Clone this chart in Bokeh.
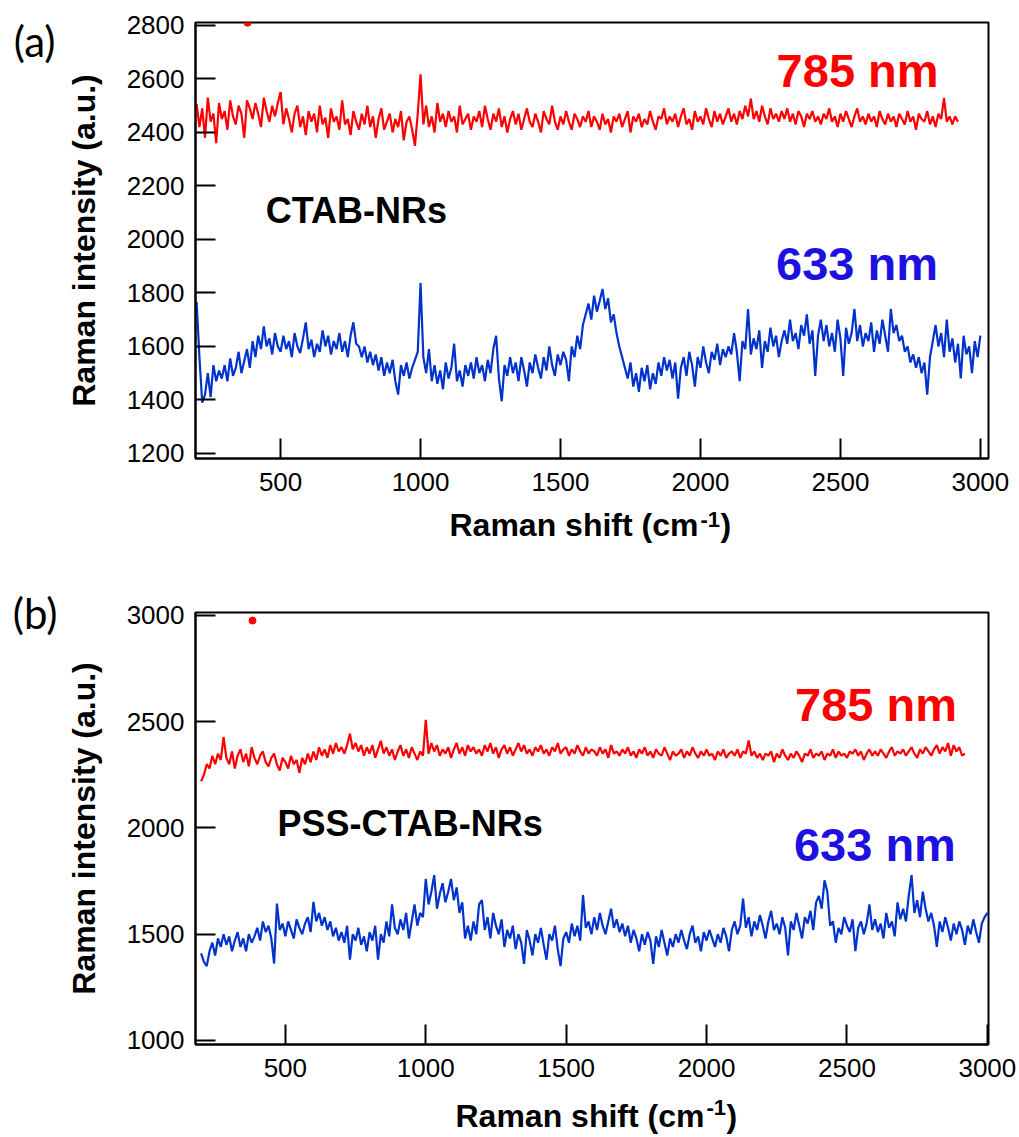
import numpy as np
from bokeh.plotting import figure
from bokeh.models import Range1d, FixedTicker, Label, LinearAxis
from bokeh.layouts import column
from bokeh.embed import file_html
from bokeh.resources import INLINE

# ---------------- data ----------------
# Raman shift grids (cm^-1)
shift_633 = np.arange(200, 3001, 10)
shift_785 = np.arange(200, 2921, 10)

# panel (a) CTAB-NRs, 633 nm
a_633 = [
    1766, 1560, 1390, 1420, 1500, 1410, 1530, 1470, 1510, 1480,
    1530, 1470, 1555, 1490, 1520, 1580, 1500, 1545, 1590, 1520,
    1620, 1560, 1640, 1590, 1675, 1600, 1630, 1570, 1650, 1600,
    1580, 1640, 1590, 1620, 1560, 1650, 1600, 1575, 1630, 1690,
    1590, 1625, 1560, 1610, 1580, 1660, 1600, 1640, 1570, 1620,
    1590, 1650, 1580, 1620, 1560, 1640, 1690, 1610, 1600, 1560,
    1600, 1540, 1580, 1530, 1570, 1510, 1560, 1490, 1540, 1500,
    1550, 1470, 1420, 1530, 1490, 1540, 1480, 1520, 1550, 1580,
    1837, 1560, 1500, 1590, 1470, 1530, 1460, 1510, 1440, 1540,
    1480, 1520, 1610, 1470, 1510, 1450, 1530, 1490, 1540, 1480,
    1560, 1500, 1530, 1470, 1550, 1500, 1590, 1640, 1480, 1395,
    1530, 1490, 1560, 1500, 1540, 1470, 1560, 1510, 1450, 1540,
    1500, 1570, 1520, 1480, 1560, 1510, 1600, 1530, 1490, 1570,
    1530, 1580, 1550, 1470, 1600, 1560, 1640, 1590, 1680, 1720,
    1760, 1700, 1790, 1730, 1770, 1815, 1740, 1780, 1690, 1720,
    1650, 1600, 1560, 1520, 1480, 1540, 1450, 1500, 1430, 1520,
    1470, 1530, 1440, 1500, 1460, 1540, 1490, 1560, 1510, 1550,
    1480, 1540, 1405, 1520, 1560, 1490, 1580, 1530, 1450, 1560,
    1520, 1600, 1540, 1500, 1580, 1550, 1610, 1530, 1590, 1560,
    1600, 1570, 1650, 1580, 1470, 1620, 1590, 1740, 1570, 1630,
    1590, 1660, 1520, 1620, 1580, 1670, 1600, 1640, 1560, 1620,
    1660, 1610, 1700, 1620, 1650, 1590, 1680, 1640, 1720, 1610,
    1660, 1490, 1640, 1700, 1620, 1680, 1600, 1650, 1580, 1700,
    1630, 1490, 1670, 1610, 1650, 1740, 1620, 1680, 1600, 1650,
    1620, 1690, 1580, 1660, 1610, 1700, 1640, 1580, 1740, 1650,
    1680, 1620, 1640, 1580, 1600, 1540, 1570, 1520, 1560, 1500,
    1540, 1420, 1560, 1620, 1680, 1600, 1650, 1560, 1700, 1580,
    1630, 1540, 1610, 1480, 1640, 1570, 1600, 1500, 1620, 1560,
    1640,
]

# panel (a) CTAB-NRs, 785 nm
a_785 = [
    2507, 2420, 2490, 2380, 2530, 2440, 2470, 2360, 2510, 2450,
    2480, 2410, 2520, 2460, 2430, 2500, 2470, 2380, 2520, 2490,
    2450, 2510, 2470, 2420, 2530, 2480, 2440, 2500, 2460, 2510,
    2551, 2430, 2490, 2450, 2400, 2470, 2500, 2420, 2460, 2390,
    2480, 2440, 2470, 2400, 2500, 2430, 2455, 2380, 2490, 2440,
    2460, 2410, 2520, 2430, 2450, 2390, 2480, 2440, 2410, 2470,
    2430, 2500, 2420, 2460, 2380, 2450, 2490, 2410, 2440, 2470,
    2400, 2450, 2420, 2480, 2370, 2440, 2460, 2410, 2350, 2470,
    2617, 2430, 2500, 2420, 2460, 2400, 2510, 2440, 2470, 2420,
    2480, 2440, 2460, 2400, 2500, 2430, 2450, 2470, 2410, 2460,
    2440, 2480, 2420, 2500, 2450, 2410, 2470, 2440, 2490, 2420,
    2460, 2400, 2450, 2480, 2430, 2470, 2410, 2450, 2490, 2440,
    2420, 2470, 2440, 2400, 2480, 2450, 2430, 2500, 2440, 2410,
    2460, 2430, 2480, 2440, 2410, 2470, 2450, 2420, 2460, 2440,
    2480, 2420, 2460, 2440, 2410, 2470, 2430, 2450, 2400, 2460,
    2440, 2470, 2420, 2450, 2480, 2400, 2460, 2440, 2470, 2420,
    2450, 2430, 2480, 2440, 2410, 2460, 2450, 2490, 2430, 2460,
    2440, 2470, 2420, 2460, 2490, 2430, 2450, 2410, 2480, 2440,
    2460, 2430, 2490, 2450, 2420, 2480, 2440, 2470, 2430, 2460,
    2490, 2440, 2470, 2430, 2480, 2450, 2500, 2460, 2526, 2450,
    2480, 2440, 2500, 2460, 2430, 2490, 2450, 2470, 2440, 2480,
    2450, 2490, 2440, 2470, 2430, 2480, 2460, 2420, 2470, 2450,
    2480, 2440, 2460, 2430, 2470, 2450, 2490, 2440, 2460, 2420,
    2470, 2440, 2480, 2450, 2420, 2460, 2490, 2440, 2460, 2430,
    2470, 2440, 2460, 2420, 2480, 2450, 2430, 2470, 2440, 2460,
    2420, 2470, 2450, 2430, 2480, 2440, 2460, 2410, 2470, 2450,
    2440, 2480, 2430, 2460, 2420, 2470, 2450, 2528, 2440, 2460,
    2430, 2460, 2440,
]

# panel (b) PSS-CTAB-NRs, 785 nm
b_785 = [
    2220, 2250, 2300, 2280, 2340, 2300, 2350, 2320, 2428, 2330,
    2300, 2360, 2280, 2340, 2370, 2310, 2350, 2290, 2380, 2330,
    2300, 2340, 2360, 2310, 2290, 2330, 2350, 2300, 2270, 2330,
    2310, 2280, 2340, 2300, 2320, 2260, 2330, 2300, 2350, 2310,
    2360, 2320, 2380, 2340, 2370, 2330, 2390, 2350, 2400, 2360,
    2380, 2350, 2390, 2444, 2370, 2400, 2360, 2390, 2340, 2380,
    2350, 2390, 2330, 2370, 2410, 2350, 2380, 2340, 2370, 2320,
    2360, 2390, 2340, 2370, 2330, 2380, 2350, 2320, 2360, 2340,
    2509, 2350, 2400, 2360, 2390, 2340, 2370, 2350, 2380, 2330,
    2370, 2400, 2350, 2380, 2340, 2390, 2360, 2380, 2350, 2370,
    2340, 2390, 2360, 2400, 2350, 2380, 2330, 2370, 2390, 2350,
    2380, 2340, 2370, 2400, 2360, 2390, 2350, 2370, 2340, 2380,
    2360, 2390, 2350, 2370, 2340, 2380, 2360, 2400, 2350, 2370,
    2380, 2340, 2370, 2350, 2390, 2360, 2340, 2380, 2350, 2370,
    2360, 2340, 2380, 2350, 2370, 2330, 2390, 2350, 2360, 2340,
    2370, 2350, 2380, 2340, 2360, 2330, 2370, 2350, 2380, 2340,
    2360, 2330, 2370, 2350, 2340, 2380, 2350, 2320, 2360, 2340,
    2350, 2370, 2330, 2360, 2340, 2380, 2350, 2330, 2360, 2340,
    2370, 2340, 2350, 2320, 2360, 2340, 2370, 2330, 2350, 2360,
    2340, 2370, 2330, 2360, 2350, 2412, 2340, 2360, 2330, 2350,
    2320, 2350, 2340, 2360, 2310, 2350, 2330, 2370, 2340, 2320,
    2350, 2330, 2360, 2340, 2310, 2350, 2340, 2370, 2330, 2350,
    2340, 2360, 2320, 2350, 2340, 2370, 2330, 2360, 2340, 2350,
    2330, 2360, 2350, 2370, 2340, 2360, 2320, 2350, 2370, 2340,
    2360, 2340, 2370, 2350, 2330, 2360, 2380, 2340, 2360, 2350,
    2370, 2340, 2360, 2380, 2350, 2330, 2370, 2350, 2380, 2360,
    2340, 2370, 2390, 2350, 2380, 2360, 2400, 2340, 2390, 2360,
    2380, 2340, 2350,
]

# panel (b) PSS-CTAB-NRs, 633 nm
b_633 = [
    1410, 1370, 1350, 1420, 1460, 1400, 1480, 1440, 1500, 1450,
    1490, 1420, 1470, 1510, 1440, 1480, 1420, 1500, 1460, 1490,
    1530, 1470, 1560, 1510, 1540, 1480, 1362, 1644, 1520, 1550,
    1490, 1560, 1520, 1480, 1570, 1530, 1500, 1550, 1580, 1510,
    1652, 1560, 1600, 1540, 1580, 1520, 1560, 1490, 1530, 1470,
    1510, 1460, 1540, 1380, 1500, 1470, 1530, 1450, 1490, 1420,
    1510, 1470, 1540, 1380, 1500, 1460, 1560, 1490, 1640, 1530,
    1500, 1570, 1520, 1600, 1480, 1560, 1640, 1540, 1600, 1580,
    1760, 1640, 1700, 1778, 1620, 1690, 1740, 1650, 1700, 1760,
    1660, 1720, 1600, 1650, 1480, 1540, 1470, 1560, 1500, 1640,
    1660, 1520, 1580, 1480, 1600, 1540, 1500, 1570, 1440, 1520,
    1480, 1540, 1430, 1500, 1460, 1360, 1520, 1470, 1400, 1500,
    1460, 1530, 1450, 1380, 1500, 1470, 1540, 1430, 1350, 1480,
    1510, 1460, 1550, 1490, 1540, 1470, 1684, 1530, 1560, 1500,
    1580, 1520, 1600, 1540, 1500, 1560, 1620, 1530, 1570, 1510,
    1550, 1490, 1540, 1460, 1520, 1480, 1420, 1500, 1450, 1510,
    1470, 1360, 1490, 1440, 1520, 1460, 1400, 1480, 1440, 1500,
    1460, 1520, 1470, 1430, 1500, 1540, 1460, 1490, 1420, 1510,
    1470, 1520, 1480, 1440, 1500, 1460, 1530, 1490, 1420, 1520,
    1560, 1500, 1540, 1668, 1530, 1580, 1490, 1560, 1520, 1590,
    1540, 1480, 1560, 1610, 1520, 1550, 1500, 1580, 1530, 1400,
    1560, 1520, 1600, 1540, 1480, 1580, 1550, 1610, 1520, 1650,
    1680, 1620, 1754, 1700, 1540, 1560, 1460, 1530, 1500, 1580,
    1540, 1510, 1570, 1420, 1530, 1560, 1500, 1550, 1640, 1520,
    1570, 1510, 1550, 1480, 1600, 1530, 1560, 1490, 1650, 1570,
    1620, 1560, 1680, 1778, 1600, 1660, 1580, 1700, 1620, 1560,
    1600, 1540, 1440, 1560, 1510, 1580, 1530, 1470, 1550, 1500,
    1560, 1520, 1450, 1540, 1500, 1570, 1510, 1460, 1550, 1580,
    1600,
]

# isolated outlier point of the 785 nm spectra
a_dot_x, a_dot_y = [382], [2810]
b_dot_x, b_dot_y = [383], [2976]

a_yticks = [1200, 1400, 1600, 1800, 2000, 2200, 2400, 2600, 2800]
b_yticks = [1000, 1500, 2000, 2500, 3000]
xticks = [500, 1000, 1500, 2000, 2500, 3000]

RED = "#FF0000"
BLUE_LINE = "#0033CC"
BLUE_TEXT = "#1E10E0"
FONT = "Liberation Sans"

W = 1019
BORDER_L = 195
BORDER_R = 31
FRAME_R = W - BORDER_R


def style(p, yticks):
    p.xgrid.visible = False
    p.ygrid.visible = False
    p.outline_line_color = "black"
    p.outline_line_width = 2
    p.background_fill_color = "white"
    p.border_fill_color = "white"
    for ax in (p.xaxis[0], p.yaxis[0]):
        ax.axis_line_width = 2
        ax.axis_line_color = "black"
        ax.major_tick_in = 20
        ax.major_tick_out = 0
        ax.major_tick_line_width = 2
        ax.major_tick_line_color = "black"
        ax.minor_tick_line_color = None
        ax.major_label_text_font = FONT
        ax.major_label_text_font_size = "26px"
        ax.major_label_text_color = "black"
    p.xaxis[0].ticker = FixedTicker(ticks=xticks)
    p.yaxis[0].ticker = FixedTicker(ticks=yticks)
    p.xaxis[0].major_label_standoff = 14
    p.yaxis[0].major_label_standoff = 11
    p.yaxis[0].axis_label = "Raman intensity (a.u.)"
    p.yaxis[0].axis_label_text_font = FONT
    p.yaxis[0].axis_label_text_font_style = "bold"
    p.yaxis[0].axis_label_text_font_size = "32px"
    p.yaxis[0].axis_label_text_color = "black"
    p.yaxis[0].axis_label_standoff = 22


def panel_tag(p, yval, text, standoff):
    # the "(a)" / "(b)" panel tag, drawn as a horizontal label of an outer left axis
    ax = LinearAxis(ticker=FixedTicker(ticks=[yval]),
                    major_label_overrides={yval: text})
    ax.axis_line_color = None
    ax.major_tick_line_color = None
    ax.minor_tick_line_color = None
    ax.major_tick_in = 0
    ax.major_tick_out = 0
    ax.major_label_text_font = "Lato"
    ax.major_label_text_font_size = "42px"
    ax.major_label_text_color = "black"
    ax.major_label_standoff = standoff
    p.add_layout(ax, "left")


def txt(p, x, y, text, size, color="black"):
    p.add_layout(Label(x=x, y=y, text=text, text_font=FONT, text_font_style="bold",
                       text_font_size=size, text_color=color,
                       text_align="left", text_baseline="alphabetic"))


def xlabel_strip(height, x0, y0, ysup):
    # strip below a panel carrying "Raman shift (cm-1)" with a raised -1;
    # its frame spans the same pixels as the panel frame, 1 unit = 1 px
    s = figure(width=W, height=height, output_backend="svg", toolbar_location=None,
               x_axis_type=None, y_axis_type=None,
               x_range=Range1d(BORDER_L, FRAME_R), y_range=Range1d(0, height),
               min_border_left=BORDER_L, min_border_right=BORDER_R,
               min_border_top=0, min_border_bottom=0)
    s.outline_line_color = None
    s.background_fill_color = "white"
    s.border_fill_color = "white"
    s.grid.visible = False
    txt(s, x0, y0, "Raman shift (cm", "32px")
    txt(s, x0 + 251, ysup, "-1", "22px")
    txt(s, x0 + 271, y0, ")", "32px")
    return s


# ---------------- panel (a) ----------------
pa = figure(width=W, height=504, output_backend="svg", toolbar_location=None,
            x_range=Range1d(196, 3029), y_range=Range1d(1181, 2811),
            min_border_left=BORDER_L, min_border_right=BORDER_R, min_border_top=22,
            min_border_bottom=46)
style(pa, a_yticks)
pa.line(shift_785, a_785, line_color=RED, line_width=2.2)
pa.line(shift_633, a_633, line_color=BLUE_LINE, line_width=2.2)
pa.scatter(a_dot_x, a_dot_y, size=7, color=RED)
txt(pa, 2272, 2630, "785 nm", "47px", RED)
txt(pa, 2270, 1910, "633 nm", "47px", BLUE_TEXT)
txt(pa, 447, 2109, "CTAB-NRs", "36px")
panel_tag(pa, 2740, "(a)", 7)
strip_a = xlabel_strip(71, 449, 50.5, 56)

# ---------------- panel (b) ----------------
pb = figure(width=W, height=517, output_backend="svg", toolbar_location=None,
            x_range=Range1d(180, 3004), y_range=Range1d(981, 3014),
            min_border_left=BORDER_L, min_border_right=BORDER_R, min_border_top=37,
            min_border_bottom=48)
style(pb, b_yticks)
pb.line(shift_785, b_785, line_color=RED, line_width=2.2)
pb.line(shift_633, b_633, line_color=BLUE_LINE, line_width=2.2)
pb.scatter(b_dot_x, b_dot_y, size=7, color=RED)
txt(pb, 2315, 2582, "785 nm", "47px", RED)
txt(pb, 2311, 1924, "633 nm", "47px", BLUE_TEXT)
txt(pb, 472, 2022, "PSS-CTAB-NRs", "36px")
panel_tag(pb, 3013, "(b)", 5)
strip_b = xlabel_strip(45, 455, 21.5, 30)

layout = column(pa, strip_a, pb, strip_b, spacing=0)
open("out.html", "w").write(file_html(layout, INLINE))
